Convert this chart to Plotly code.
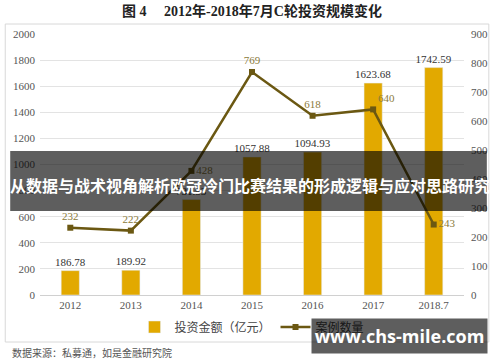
import plotly.graph_objects as go

categories = ["2012", "2013", "2014", "2015", "2016", "2017", "2018.7"]
invest_amount = [186.78, 189.92, 731.53, 1057.88, 1094.93, 1623.68, 1742.59]
deal_count = [232, 222, 428, 769, 618, 640, 243]
count_label_pos = ["top center", "top center", "middle right", "top center",
                   "top center", "top right", "middle right"]
left_ticks = list(range(0, 2001, 200))
right_ticks = list(range(0, 901, 100))

SERIF = "Liberation Serif, Noto Sans CJK SC, serif"
CJK = "Noto Sans CJK SC, sans-serif"

W, H = 500, 362
L, R, T, B = 40, 33, 34, 67
pw, ph = W - L - R, H - T - B


def px(x):
    return (x - L) / pw


def py(y):
    return (H - B - y) / ph


fig = go.Figure()
fig.add_trace(go.Bar(
    x=categories, y=invest_amount, name="投资金额（亿元）",
    marker_color="#E2A900", width=0.3,
    text=[f"{v:.2f}" for v in invest_amount], textposition="outside",
    textfont=dict(family=SERIF, size=11, color="#333333"),
    constraintext="none", cliponaxis=False,
))
fig.add_trace(go.Scatter(
    x=categories, y=deal_count, name="案例数量", yaxis="y2",
    mode="lines+markers+text",
    line=dict(color="#6B5812", width=2.5),
    marker=dict(symbol="square", size=6, color="#6B5812"),
    text=[str(v) for v in deal_count], textposition=count_label_pos,
    textfont=dict(family=SERIF, size=11, color="#8B7B3A"),
    cliponaxis=False,
))

fig.update_layout(
    width=W, height=H, margin=dict(l=L, r=R, t=T, b=B),
    paper_bgcolor="white", plot_bgcolor="white",
    showlegend=True,
    legend=dict(orientation="h", x=0.5, xanchor="center", y=py(327), yanchor="middle",
                font=dict(family=SERIF, size=12, color="#444444"),
                itemwidth=30, bgcolor="rgba(0,0,0,0)"),
    xaxis=dict(type="category", tickfont=dict(family=SERIF, size=11, color="#555555"),
               showline=True, linecolor="#d0d0d0", ticks="", showgrid=False),
    yaxis=dict(range=[0, 2000], tickvals=left_ticks, showgrid=True, gridcolor="#e3e3e3",
               zeroline=False, tickfont=dict(family=SERIF, size=11, color="#555555"),
               ticklabelstandoff=4),
    yaxis2=dict(range=[0, 900], tickvals=right_ticks, overlaying="y", side="right",
                showgrid=False, zeroline=False,
                tickfont=dict(family=SERIF, size=11, color="#555555"),
                ticklabelstandoff=6),
    bargap=0.7,
    title=dict(text="图 4\u00a0\u00a0\u00a0\u00a0\u00a02012年-2018年7月C轮投资规模变化",
               x=0.5, xref="paper", xanchor="center", y=1 - 11 / H, yanchor="middle",
               font=dict(family=SERIF, size=14, color="#222222", weight="bold")),
)

shapes = [
    dict(type="rect", xref="paper", yref="paper",
         x0=px(5), x1=px(492), y0=py(342), y1=py(24),
         line=dict(color="#d8d8d8", width=1), fillcolor="rgba(0,0,0,0)", layer="below"),
    dict(type="rect", xref="paper", yref="paper",
         x0=px(10), x1=px(490), y0=py(211), y1=py(151),
         line=dict(width=0), fillcolor="rgba(0,0,0,0.63)", layer="above"),
]
fig.update_layout(shapes=shapes)

fig.add_annotation(xref="paper", yref="paper", x=px(251), y=py(185),
                   text="从数据与战术视角解析欧冠冷门比赛结果的形成逻辑与应对思路研究",
                   showarrow=False, xanchor="center", yanchor="middle",
                   font=dict(family=CJK, size=16, color="white", weight="bold"))
fig.add_annotation(xref="paper", yref="paper", x=px(402), y=py(336),
                   text="www.chs-mile.com", showarrow=False,
                   xanchor="center", yanchor="middle",
                   width=171, height=30, bgcolor="rgba(0,0,0,0.63)", borderpad=2,
                   font=dict(family="Open Sans, sans-serif", size=18, color="white", weight="bold"))
fig.add_annotation(xref="paper", yref="paper", x=px(10), y=py(352),
                   text="数据来源：私募通，如是金融研究院", showarrow=False,
                   xanchor="left", yanchor="middle",
                   font=dict(family=CJK, size=10, color="#555555"))

fig.write_html("out.html", config={"displayModeBar": False},
               post_script="document.body.style.margin='0';document.body.style.overflow='hidden';")
